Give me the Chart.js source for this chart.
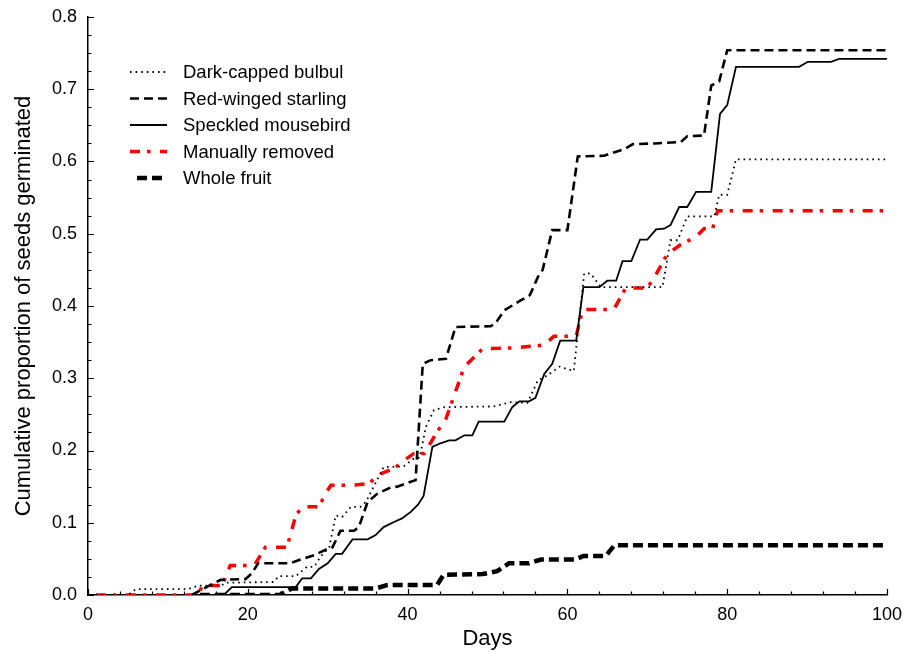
<!DOCTYPE html>
<html>
<head>
<meta charset="utf-8">
<script src="https://cdn.jsdelivr.net/npm/chart.js@4/dist/chart.umd.min.js"></script>
<style>
  body { margin: 0; background: #fff; }
  canvas { display: block; }
</style>
</head>
<body>
<canvas id="chart" width="914" height="652"></canvas>
<script>
// cumulative germination curves, [day, proportion]
const seriesNames = [
  "Dark-capped bulbul",
  "Red-winged starling",
  "Speckled mousebird",
  "Manually removed",
  "Whole fruit",
];

const bulbul = [
  [1, 0], [5, 0], [6, 0.008], [12.5, 0.008], [13.8, 0.013], [16.7, 0.013],
  [17.2, 0.017], [23.2, 0.018], [23.9, 0.026], [26, 0.026], [27.4, 0.039],
  [28.3, 0.039], [29.1, 0.053], [30.2, 0.066], [31, 0.11], [31.8, 0.108],
  [32.9, 0.122], [34.1, 0.122], [34.8, 0.129], [37, 0.177], [39.5, 0.178],
  [40.8, 0.189], [41.5, 0.19], [42.3, 0.233], [43.3, 0.256], [44.6, 0.26],
  [50.8, 0.261], [52.9, 0.267], [55, 0.266], [56.3, 0.297], [57.5, 0.304],
  [59, 0.316], [60.8, 0.31], [62.1, 0.445], [62.9, 0.445], [64.2, 0.426],
  [71.9, 0.426], [72.9, 0.491], [73.8, 0.491], [75, 0.524], [78.4, 0.524],
  [79, 0.554], [80, 0.554], [81.1, 0.603], [100, 0.603],
];

const starling = [
  [13, 0], [15, 0.012], [16.6, 0.021], [19.7, 0.022], [20.5, 0.03],
  [21.3, 0.044], [25.3, 0.044], [26.8, 0.05], [28.3, 0.055], [30, 0.064],
  [30.6, 0.066], [31.6, 0.089], [33.3, 0.089], [33.9, 0.094], [35, 0.129],
  [36.2, 0.14], [37.9, 0.149], [38.7, 0.15], [41, 0.159], [41.9, 0.32],
  [42.9, 0.325], [44.8, 0.327], [46, 0.371], [50.4, 0.372], [51, 0.376],
  [52.1, 0.394], [54.2, 0.408], [55.3, 0.415], [56.3, 0.44], [56.9, 0.45],
  [58.1, 0.505], [60, 0.505], [61.3, 0.607], [64.6, 0.608], [65.4, 0.611],
  [67.1, 0.617], [68.2, 0.624], [71, 0.625], [74.2, 0.627], [75, 0.635],
  [77.1, 0.636], [78, 0.705], [79, 0.711], [80, 0.754], [100, 0.754],
];

const mousebird = [
  [14, 0], [17, 0], [18, 0.011], [26, 0.011], [26.8, 0.023], [27.9, 0.023],
  [28.9, 0.036], [30, 0.044], [31, 0.057], [31.8, 0.057], [33.1, 0.077],
  [35, 0.077], [36, 0.083], [37, 0.094], [38.3, 0.101], [39.3, 0.106],
  [40.4, 0.115], [41.3, 0.125], [42, 0.137], [43.1, 0.205], [44.1, 0.21],
  [45.2, 0.214], [46, 0.214], [47.1, 0.221], [48.1, 0.221], [48.9, 0.24],
  [52.1, 0.24], [53.1, 0.26], [54, 0.268], [55.2, 0.268], [56, 0.273],
  [57.1, 0.306], [58.1, 0.32], [59.1, 0.352], [61.1, 0.352], [62, 0.426],
  [64, 0.426], [65, 0.435], [66.1, 0.435], [66.9, 0.462], [68, 0.462],
  [69.1, 0.492], [70, 0.492], [71.1, 0.506], [72.1, 0.507], [72.9, 0.512],
  [74, 0.537], [75, 0.537], [76.1, 0.558], [78, 0.558], [79.1, 0.666],
  [80, 0.678], [81.1, 0.731], [89, 0.731], [90.1, 0.738], [93, 0.738],
  [94, 0.742], [100, 0.742],
];

const manual = [
  [1, 0], [13.8, 0], [14.3, 0.013], [16.8, 0.013], [17.8, 0.041],
  [20.8, 0.041], [22.2, 0.066], [24.9, 0.066], [26, 0.11], [26.8, 0.122],
  [28.9, 0.122], [29.7, 0.14], [30.4, 0.152], [32.9, 0.152], [35.2, 0.154],
  [36.2, 0.166], [38.3, 0.175], [39.5, 0.186], [40.8, 0.196], [42.1, 0.196],
  [43.7, 0.226], [44.8, 0.244], [47.1, 0.316], [49.4, 0.341], [53.4, 0.342],
  [57.1, 0.346], [58.3, 0.358], [61.1, 0.358], [61.9, 0.395], [65.8, 0.395],
  [67.3, 0.425], [70, 0.425], [70.9, 0.44], [72.5, 0.472], [74.2, 0.485],
  [76.1, 0.496], [77.1, 0.507], [78.2, 0.508], [78.8, 0.532], [100, 0.532],
];

const wholeFruit = [
  [14, 0], [24, 0], [25.5, 0.009], [36, 0.009], [37.5, 0.014], [43.7, 0.014],
  [44.5, 0.028], [49.4, 0.029], [51.2, 0.033], [52.7, 0.044], [55.2, 0.044],
  [56.7, 0.049], [61, 0.049], [62, 0.054], [64.8, 0.054], [65.9, 0.069],
  [100, 0.069],
];

const xTicks = [0, 20, 40, 60, 80, 100];
const yTicks = [0, 0.1, 0.2, 0.3, 0.4, 0.5, 0.6, 0.7, 0.8];
const xMinorStep = 4;
const yMinorStep = 0.025;

const FONT = "Arial, 'Liberation Sans', sans-serif";

const styles = [
  { color: "#000", width: 1.8, dash: [1.6, 4] },
  { color: "#000", width: 2.6, dash: [9, 5] },
  { color: "#000", width: 1.8, dash: [] },
  { color: "#ff0000", width: 3.5, dash: [10, 7, 3.5, 9.5] },
  { color: "#000", width: 4.5, dash: [10, 5] },
];

const allSeries = [bulbul, starling, mousebird, manual, wholeFruit];

const datasets = allSeries.map((pts, i) => ({
  label: seriesNames[i],
  data: pts.map(([x, y]) => ({ x, y })),
  borderColor: styles[i].color,
  borderWidth: styles[i].width,
  borderDash: styles[i].dash,
  borderCapStyle: "butt",
  borderJoinStyle: "miter",
  pointRadius: 0,
  tension: 0,
  fill: false,
}));

// small inward tick marks on both axes
const innerTicks = {
  id: "innerTicks",
  afterDraw(chart) {
    const { ctx, scales: { x, y } } = chart;
    ctx.save();
    ctx.strokeStyle = "#000";
    ctx.lineWidth = 1.2;
    ctx.beginPath();
    for (let d = 0; d <= 100; d += xMinorStep) {
      const px = Math.round(x.getPixelForValue(d)) + 0.5;
      const len = d % 20 === 0 ? 6 : 3.5;
      ctx.moveTo(px, y.bottom);
      ctx.lineTo(px, y.bottom - len);
    }
    for (let k = 0; k <= 32; k++) {
      const v = k * yMinorStep;
      const py = Math.round(y.getPixelForValue(v)) + 0.5;
      const len = k % 4 === 0 ? 6 : 3.5;
      ctx.moveTo(x.left, py);
      ctx.lineTo(x.left + len, py);
    }
    ctx.stroke();
    ctx.restore();
  },
};

// legend drawn in the top-left of the plot
const insetLegend = {
  id: "insetLegend",
  afterDatasetsDraw(chart) {
    const { ctx } = chart;
    ctx.save();
    chart.data.datasets.forEach((ds, i) => {
      const yy = 72 + i * 26.5;
      const thick = ds.borderWidth >= 4;
      const x0 = thick ? 137 : 130;
      const x1 = thick ? 162 : 167;
      ctx.strokeStyle = ds.borderColor;
      ctx.lineWidth = ds.borderWidth;
      ctx.setLineDash(ds.borderDash);
      ctx.lineCap = "butt";
      ctx.beginPath();
      ctx.moveTo(x0, yy);
      ctx.lineTo(x1, yy);
      ctx.stroke();
      ctx.setLineDash([]);
      ctx.fillStyle = "#000";
      ctx.font = `18.5px ${FONT}`;
      ctx.textBaseline = "middle";
      ctx.textAlign = "left";
      ctx.fillText(ds.label, 183, yy + 1);
    });
    ctx.restore();
  },
};

new Chart(document.getElementById("chart"), {
  type: "line",
  data: { datasets },
  plugins: [innerTicks, insetLegend],
  options: {
    responsive: false,
    animation: false,
    devicePixelRatio: 1,
    layout: { padding: { top: 17, right: 27, left: 0, bottom: 0 } },
    plugins: { legend: { display: false }, tooltip: { enabled: false } },
    scales: {
      x: {
        type: "linear",
        min: 0,
        max: 100,
        afterFit: (s) => { s.height = 57; },
        afterBuildTicks: (s) => { s.ticks = xTicks.map((v) => ({ value: v })); },
        grid: { display: false },
        border: { display: true, color: "#000", width: 1.5 },
        ticks: {
          color: "#000",
          padding: 1,
          font: { family: FONT, size: 18 },
          callback: (v) => String(v),
        },
        title: {
          display: true,
          text: "Days",
          color: "#000",
          font: { family: FONT, size: 22 },
          padding: { top: 0, bottom: 0 },
        },
      },
      y: {
        type: "linear",
        min: 0,
        max: 0.8,
        afterFit: (s) => { s.width = 88; },
        afterBuildTicks: (s) => { s.ticks = yTicks.map((v) => ({ value: v })); },
        grid: { display: false },
        border: { display: true, color: "#000", width: 1.5 },
        ticks: {
          color: "#000",
          padding: 3,
          font: { family: FONT, size: 18 },
          callback: (v) => Number(v).toFixed(1),
        },
        title: {
          display: true,
          text: "Cumulative proportion of seeds germinated",
          color: "#000",
          font: { family: FONT, size: 22 },
          padding: { top: 11, bottom: 0 },
        },
      },
    },
  },
});
</script>
</body>
</html>
